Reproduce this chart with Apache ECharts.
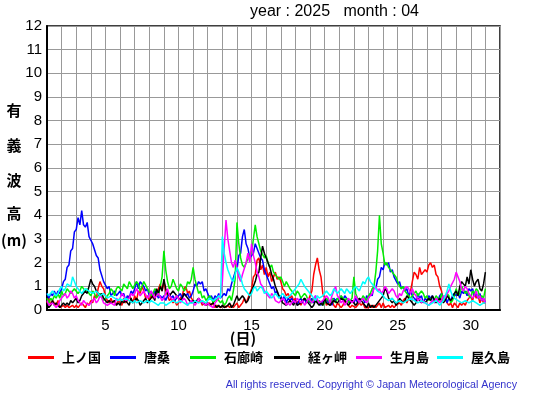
<!DOCTYPE html>
<html><head><meta charset="utf-8">
<script src="https://cdn.jsdelivr.net/npm/echarts@6/dist/echarts.min.js"></script>
<style>html,body{margin:0;padding:0;background:#fff}#c{width:555px;height:395px}</style>
</head><body><div id="c"></div>
<script>
// Stations (legend order)
const stations = ['上ノ国','唐桑','石廊崎','経ヶ岬','生月島','屋久島'];
const colors = ['#ff0000','#0000ff','#00ee00','#000000','#ff00ff','#00ffff'];
// Samples every 3 hours from day 1.000 to day 31.000 (8 per day)
const kaminokuni = [
0.3,0.5,0.2,0.4,0.3,0.2,0.4,0.1, 0.1,0.2,0.1,0.2,0.1,0.1,0.2,0.1, 0.2,0.1,0.1,0.3,0.2,0.1,0.3,0.2,
0.4,0.3,0.6,0.5,0.9,1.2,1.0,0.9, 0.6,0.4,0.3,0.5,0.3,0.4,0.2,0.4, 0.4,0.2,0.5,0.3,0.4,0.6,0.5,0.3,
0.6,0.4,0.8,0.7,1.0,0.8,0.5,0.6, 0.4,0.6,0.5,0.8,0.6,0.9,1.1,0.8, 1.2,0.8,0.6,0.4,0.5,0.3,0.4,0.2,
0.3,0.5,0.6,0.9,1.0,0.7,0.8,0.5, 0.5,0.3,0.4,0.3,0.4,0.2,0.3,0.2, 0.2,0.3,0.2,0.3,0.1,0.2,0.2,0.1,
0.1,0.2,0.1,0.2,0.1,0.2,0.1,0.1, 0.3,0.1,0.2,0.3,0.5,0.3,0.5,0.7, 0.9,1.4,1.5,2.1,2.2,1.7,1.9,1.5,
1.8,1.4,1.6,1.2,1.4,1.6,1.3,1.4, 1.2,0.9,0.8,0.6,0.7,0.5,0.6,0.4, 0.5,0.3,0.4,0.2,0.4,0.5,0.3,0.4,
0.4,0.8,1.5,1.9,2.2,1.7,1.4,0.7, 0.5,0.2,0.3,0.2,0.4,0.2,0.1,0.3, 0.3,0.1,0.2,0.4,0.3,0.2,0.1,0.2,
0.2,0.1,0.2,0.3,0.2,0.3,0.1,0.1, 0.1,0.2,0.1,0.2,0.1,0.2,0.3,0.1, 0.3,0.1,0.1,0.2,0.1,0.2,0.1,0.2,
0.2,0.3,0.2,0.4,0.5,0.3,0.5,0.8, 1.2,1.6,1.5,1.3,1.8,1.5,1.6,1.7, 1.6,1.9,2.0,1.8,1.9,1.5,1.4,1.0,
0.8,0.4,0.5,0.3,0.2,0.3,0.1,0.3, 0.2,0.1,0.3,0.2,0.3,0.2,0.4,0.5, 0.6,0.4,0.7,0.5,0.6,0.3,0.5,0.3,
0.3];
const karakuwa = [
0.7,0.5,0.7,0.6,0.8,0.6,0.8,0.7, 0.9,1.2,1.3,1.8,1.9,2.5,2.6,3.3, 3.4,3.9,3.6,4.2,3.6,3.5,3.7,3.1,
3.1,2.8,2.8,2.3,2.2,1.7,1.7,1.2, 1.2,0.9,1.0,0.6,0.7,0.8,0.6,0.7, 0.8,0.6,0.7,0.4,0.6,0.5,0.8,0.7,
0.9,1.2,0.9,1.2,1.1,1.0,0.8,0.9, 0.6,0.8,0.6,0.8,0.7,0.5,0.6,0.5, 0.6,0.4,0.6,0.7,0.5,0.6,0.4,0.5,
0.5,0.7,0.5,0.7,0.6,0.7,0.5,0.6, 0.8,1.1,1.0,1.2,1.1,1.2,0.8,0.9, 0.7,0.5,0.6,0.4,0.6,0.5,0.7,0.5,
0.5,0.7,0.6,0.9,0.8,1.1,1.1,1.6, 1.7,2.3,2.4,3.1,3.4,2.8,2.6,2.2, 2.3,2.4,2.8,2.6,2.6,2.2,2.1,1.7,
1.7,1.3,1.3,0.9,1.0,0.7,0.8,0.5, 0.6,0.4,0.6,0.3,0.5,0.4,0.5,0.3, 0.4,0.2,0.4,0.5,0.3,0.5,0.3,0.4,
0.3,0.5,0.3,0.6,0.4,0.3,0.2,0.4, 0.3,0.5,0.3,0.4,0.2,0.5,0.4,0.5, 0.4,0.6,0.4,0.6,0.5,0.4,0.3,0.4,
0.3,0.5,0.3,0.5,0.4,0.5,0.3,0.6, 0.5,0.7,0.6,1.0,0.9,1.3,1.4,1.8, 1.7,2.0,1.9,2.0,1.6,1.7,1.4,1.4,
1.1,1.2,0.9,1.0,0.8,0.9,0.6,0.8, 0.6,0.5,0.4,0.7,0.5,0.6,0.3,0.5, 0.4,0.6,0.5,0.6,0.3,0.5,0.4,0.6,
0.7,0.5,0.6,0.3,0.5,0.4,0.6,0.7, 0.6,0.7,0.5,0.8,0.7,0.8,0.6,0.9, 0.8,0.9,0.6,0.7,0.5,0.7,0.4,0.5,
0.3];
const irozaki = [
0.5,0.3,0.5,0.4,0.6,0.5,0.7,0.5, 0.8,0.6,0.7,0.9,0.9,0.7,0.8,0.9, 0.9,0.7,0.8,1.0,1.0,0.8,0.9,0.7,
0.6,0.8,0.7,0.5,0.5,0.7,0.6,0.4, 0.5,0.6,0.7,0.9,0.8,0.6,0.9,1.0, 1.0,0.8,1.1,1.0,0.9,1.2,1.2,0.9,
0.9,1.2,1.1,0.8,1.0,1.2,1.2,0.9, 0.9,0.6,0.7,0.9,0.8,0.6,1.0,1.4, 2.5,1.7,1.2,0.9,1.0,1.3,1.3,0.9,
0.8,1.1,1.0,0.8,0.9,1.2,1.1,1.3, 1.8,1.3,1.0,0.7,0.8,0.5,0.6,0.4, 0.4,0.6,0.5,0.3,0.3,0.5,0.4,0.3,
0.4,0.2,0.3,0.5,0.6,0.4,0.8,1.3, 3.7,2.8,2.2,1.9,1.8,2.0,2.0,2.3, 2.4,3.0,3.6,3.1,2.8,2.5,2.5,2.2,
2.3,2.0,1.8,1.9,1.6,1.5,1.4,1.3, 1.4,1.2,1.0,1.2,1.2,0.9,0.8,0.7, 0.6,0.8,0.7,0.5,0.5,0.7,0.6,0.4,
0.4,0.3,0.5,0.4,0.3,0.4,0.4,0.2, 0.3,0.5,0.4,0.3,0.5,0.4,0.3,0.5, 0.4,0.6,0.6,0.4,0.5,0.3,0.3,0.5,
1.4,0.7,0.5,0.3,0.4,0.6,0.6,0.4, 0.6,0.7,0.9,1.0,1.6,2.5,4.0,2.8, 2.4,1.9,2.0,1.8,1.8,1.6,1.5,1.4,
1.2,1.0,0.9,1.0,0.8,0.7,0.6,0.5, 0.5,0.7,0.8,0.6,0.6,0.8,0.7,0.5, 0.6,0.4,0.5,0.3,0.4,0.6,0.5,0.4,
0.7,0.4,0.5,0.7,0.6,0.3,0.4,0.6, 0.9,0.6,0.7,1.0,1.0,0.7,0.8,0.6, 0.5,0.8,0.7,0.9,0.8,0.5,0.6,0.5,
0.9];
const kyogamisaki = [
0.3,0.1,0.2,0.4,0.2,0.3,0.2,0.1, 0.2,0.3,0.2,0.3,0.2,0.4,0.3,0.4, 0.5,0.3,0.4,0.6,0.6,0.8,0.7,1.0,
1.3,1.1,1.0,0.8,0.8,0.6,0.7,0.5, 0.5,0.3,0.4,0.3,0.3,0.4,0.2,0.3, 0.2,0.4,0.3,0.4,0.3,0.2,0.5,0.3,
0.3,0.5,0.4,0.2,0.2,0.4,0.5,0.3, 0.4,0.5,0.6,0.4,0.9,0.7,1.0,0.8, 1.3,0.9,0.7,0.6,0.6,0.8,0.8,0.6,
0.6,0.4,0.5,0.7,0.7,0.5,0.4,0.3, 0.4,0.3,0.3,0.5,0.5,0.3,0.3,0.2, 0.3,0.2,0.2,0.3,0.3,0.1,0.2,0.1,
0.2,0.1,0.1,0.2,0.3,0.1,0.2,0.4, 0.6,0.4,0.4,0.6,0.5,0.3,0.4,0.6, 0.8,1.0,1.2,1.5,1.6,2.2,2.7,2.4,
2.2,2.0,1.8,1.5,1.3,1.0,0.8,0.6, 0.5,0.3,0.3,0.2,0.2,0.4,0.3,0.2, 0.4,0.2,0.2,0.3,0.3,0.5,0.5,0.3,
0.3,0.1,0.2,0.4,0.4,0.2,0.3,0.2, 0.5,0.3,0.3,0.2,0.2,0.4,0.4,0.3, 0.3,0.5,0.5,0.4,0.4,0.2,0.2,0.4,
0.4,0.2,0.3,0.5,0.5,0.3,0.2,0.1, 0.3,0.1,0.2,0.1,0.1,0.3,0.3,0.5, 0.6,0.9,0.8,0.5,0.5,0.3,0.4,0.2,
0.3,0.5,0.5,0.3,0.4,0.6,0.6,0.4, 0.4,0.2,0.3,0.5,0.5,0.3,0.4,0.3, 0.3,0.5,0.4,0.6,0.6,0.3,0.3,0.5,
0.5,0.3,0.4,0.6,0.6,0.4,0.5,0.7, 0.8,0.6,1.0,1.2,1.2,1.0,1.4,1.1, 1.7,1.3,1.0,1.2,1.3,0.9,0.8,1.1,
1.6];
const ikitsukishima = [
0.4,0.2,0.2,0.3,0.3,0.1,0.2,0.4, 0.5,0.6,0.7,0.5,0.6,0.8,0.7,0.5, 0.6,0.4,0.3,0.2,0.4,0.3,0.3,0.2,
0.3,0.4,0.5,0.3,0.4,0.6,0.5,0.3, 0.3,0.2,0.2,0.3,0.3,0.2,0.5,0.4, 0.5,0.7,0.6,0.4,0.4,0.5,0.7,0.6,
0.7,0.9,0.9,0.6,0.6,0.8,0.8,0.5, 0.6,0.8,0.8,0.5,0.5,0.7,0.7,0.4, 0.5,0.7,0.9,0.6,0.6,0.4,0.5,0.6,
0.5,0.3,0.3,0.5,0.4,0.2,0.3,0.4, 0.4,0.2,0.3,0.5,0.5,0.3,0.3,0.2, 0.3,0.2,0.2,0.1,0.3,0.4,0.5,0.7,
1.2,2.6,3.8,3.0,2.5,2.0,1.8,2.1, 1.8,1.4,1.2,1.5,1.5,2.0,2.4,2.0, 2.8,2.3,2.0,1.6,1.4,1.1,1.0,0.8,
0.8,0.6,0.5,0.7,0.6,0.4,0.4,0.3, 0.3,0.5,0.4,0.2,0.3,0.2,0.2,0.4, 0.3,0.5,0.5,0.3,0.4,0.2,0.3,0.5,
0.5,0.3,0.4,0.6,0.6,0.3,0.3,0.4, 0.4,0.6,0.5,0.3,0.6,0.8,1.0,0.6, 0.5,0.3,0.4,0.2,0.3,0.5,0.5,0.3,
0.4,0.6,0.6,0.3,0.3,0.5,0.5,0.3, 0.5,0.6,0.7,0.9,1.0,0.8,0.9,0.7, 0.8,1.0,0.9,0.7,0.7,0.9,0.8,0.6,
0.5,0.7,0.6,0.8,0.8,1.0,0.9,0.7, 0.9,0.7,0.6,0.4,0.5,0.3,0.4,0.3, 0.3,0.2,0.2,0.4,0.3,0.5,0.4,0.3,
0.4,0.6,0.5,0.7,0.8,1.0,1.0,1.3, 1.6,1.4,1.2,0.9,0.8,1.0,0.9,0.7, 0.7,0.5,0.6,0.8,0.5,0.6,0.4,0.5,
0.3];
const yakushima = [
0.7,0.6,0.6,0.8,0.8,0.6,0.7,0.9, 1.0,0.8,0.9,1.1,1.1,1.0,1.4,1.2, 1.0,0.9,0.9,0.7,0.8,0.9,0.9,0.8,
0.8,0.7,0.7,0.8,0.8,0.6,0.6,0.7, 0.6,0.5,0.5,0.6,0.6,0.5,0.5,0.4, 0.5,0.4,0.4,0.5,0.5,0.4,0.4,0.3,
0.4,0.3,0.3,0.4,0.4,0.3,0.3,0.4, 0.3,0.4,0.4,0.3,0.3,0.2,0.3,0.3, 0.3,0.2,0.2,0.3,0.3,0.4,0.4,0.3,
0.3,0.4,0.4,0.3,0.3,0.2,0.3,0.3, 0.3,0.4,0.4,0.3,0.3,0.4,0.4,0.3, 0.4,0.5,0.5,0.4,0.4,0.5,0.6,0.5,
3.1,2.4,2.0,1.7,1.5,1.3,1.2,1.5, 1.8,1.6,1.4,1.1,0.9,0.8,0.8,0.6, 0.7,0.9,1.0,0.8,0.8,1.0,0.9,0.7,
0.8,0.7,0.6,0.5,0.5,0.7,0.6,0.5, 0.5,0.7,0.6,0.5,0.5,0.6,0.7,0.8, 0.9,1.0,1.1,1.3,1.3,1.0,0.9,0.8,
0.8,0.6,0.5,0.4,0.6,0.5,0.5,0.6, 0.6,0.8,0.8,0.6,0.7,0.9,0.8,0.7, 0.7,0.9,0.8,0.7,0.9,0.8,0.7,0.8,
0.8,1.0,0.9,0.8,1.0,1.2,1.1,1.3, 1.4,1.2,1.1,1.0,0.9,0.8,0.8,0.7, 0.6,0.5,0.5,0.4,0.4,0.5,0.5,0.3,
0.3,0.4,0.4,0.3,0.3,0.4,0.4,0.5, 0.5,0.4,0.4,0.3,0.3,0.4,0.4,0.3, 0.3,0.2,0.2,0.3,0.3,0.4,0.3,0.2,
0.3,0.4,0.4,0.8,1.1,0.8,0.6,0.5, 0.5,0.4,0.4,0.3,0.3,0.4,0.4,0.3, 0.3,0.4,0.4,0.3,0.3,0.2,0.2,0.3,
0.3];
const xTickLabels = [5,10,15,20,25,30];
const titleText = 'year : 2025   month : 04';
const yTitleChars = ['有','義','波','高','(m)'];
const xTitle = '(日)';
const copyright = 'All rights reserved. Copyright © Japan Meteorological Agency';

const allSeries = [kaminokuni, karakuwa, irozaki, kyogamisaki, ikitsukishima, yakushima];
const cjk = '"Noto Sans CJK JP", sans-serif';
const lat = '"Liberation Sans", Arial, sans-serif';
const perDay = 8;

const chart = echarts.init(document.getElementById('c'), null, {renderer:'canvas'});
const series = allSeries.map((vals, k) => ({
  name: stations[k], type: 'line', showSymbol: false, symbol: 'none',
  lineStyle: {color: colors[k], width: 1.5}, itemStyle: {color: colors[k]},
  animation: false, z: 2 + k,
  data: vals.map((v, i) => [1 + i / perDay, v])
}));
const yTitlePos = [110, 145, 180, 213, 240];
const legendLeft = [28, 110, 190, 274, 356, 437];
chart.setOption({
  animation: false,
  grid: {left: 47, right: 55, top: 26, bottom: 85, show: true, borderColor: '#000', borderWidth: 1.5, backgroundColor: 'transparent'},
  xAxis: {type: 'value', min: 1, max: 32, interval: 1,
    axisLine: {show: true, onZero: false, lineStyle: {color: '#000', width: 2}},
    axisTick: {show: false},
    splitLine: {show: true, lineStyle: {color: '#999', width: 1}},
    axisLabel: {color: '#000', fontSize: 15, fontFamily: lat, margin: 8,
      formatter: v => xTickLabels.indexOf(v) >= 0 ? String(v) : ''}},
  yAxis: {type: 'value', min: 0, max: 12, interval: 1,
    axisLine: {show: true, lineStyle: {color: '#000', width: 2}},
    axisTick: {show: false},
    splitLine: {show: true, lineStyle: {color: '#999', width: 1}},
    axisLabel: {color: '#000', fontSize: 15, fontFamily: lat, margin: 5}},
  legend: stations.map((s, k) => ({data: [s], left: legendLeft[k], top: 351, icon: 'rect', itemWidth: 26, itemHeight: 3,
    padding: 0, textStyle: {fontFamily: cjk, fontSize: 13, fontWeight: 'bold', color: '#000', padding: [0, 0, 0, 3]}})),
  graphic: [
    {type: 'text', left: 250, top: 4, style: {text: titleText, font: '16px ' + lat, fill: '#000'}},
    ...yTitleChars.map((c, i) => ({type: 'text', x: 14, y: yTitlePos[i],
      style: {text: c, font: 'bold 15px ' + cjk, fill: '#000', align: 'center', verticalAlign: 'middle'}})),
    {type: 'text', x: 243, y: 338, style: {text: xTitle, font: 'bold 15px ' + cjk, fill: '#000', align: 'center', verticalAlign: 'middle'}},
    {type: 'text', x: 517, y: 385, style: {text: copyright, font: '10.7px ' + lat, fill: '#3333cc', align: 'right', verticalAlign: 'middle'}}
  ],
  series: series
});
</script></body></html>
